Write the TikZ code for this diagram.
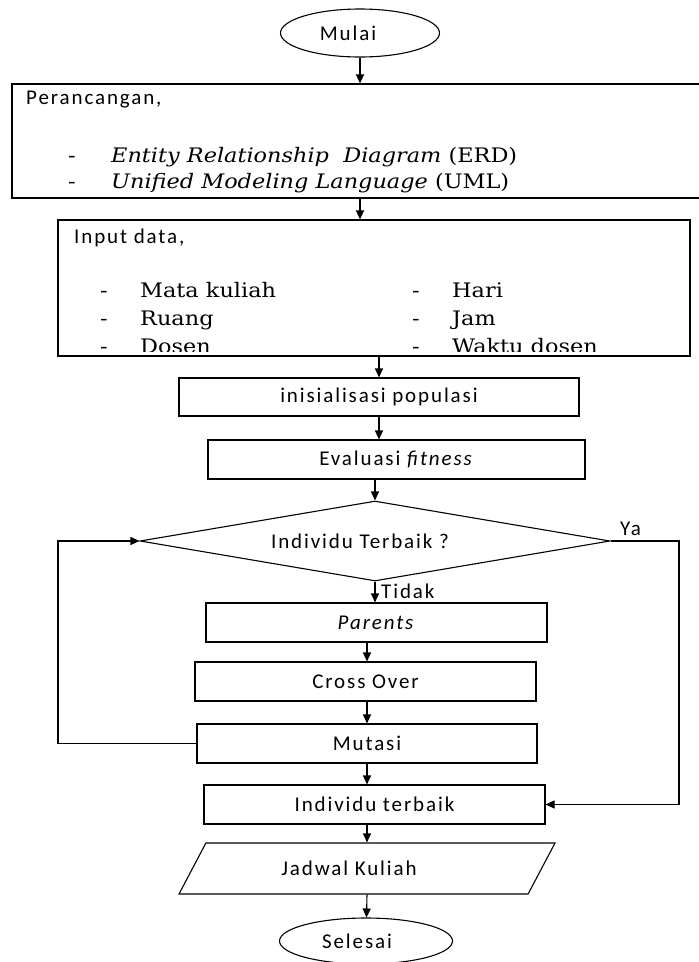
\documentclass[tikz,border=0pt]{standalone}
\usepackage{fontspec}
\setmainfont{Carlito}
\newfontfamily\flowsans[LetterSpace=9]{Carlito}
\newfontfamily\listserif[FakeStretch=1.12]{DejaVu Serif}
\usetikzlibrary{shapes.geometric,arrows.meta}

\tikzset{
  edge/.style={line width=1.1pt, draw=black},
  arr/.style={edge, -{Triangle[length=9pt,width=8pt]}},
  box/.style={draw=black, line width=1.1pt, rectangle, inner sep=0pt,
              font=\flowsans\fontsize{21}{25}\selectfont},
  term/.style={box, ellipse},
  txt/.style={inner sep=0pt, font=\flowsans\fontsize{21}{25}\selectfont},
  itm/.style={inner sep=0pt, anchor=base west, font=\listserif\fontsize{20}{24}\selectfont},
}

\begin{document}
\begin{tikzpicture}[x=1pt,y=-1pt]
\useasboundingbox (0,0) rectangle (699,962);

% terminals and process boxes
\node[term, minimum width=159pt, minimum height=48pt] (mulai) at (360,33) {Mulai\hspace*{24pt}};
\node[box, minimum width=690pt, minimum height=114pt] (peran) at (357,141) {};
\node[box, minimum width=632pt, minimum height=136pt] (input) at (374,288) {};
\node[box, minimum width=400pt, minimum height=38pt] (init) at (379,397) {inisialisasi populasi};
\node[box, minimum width=377pt, minimum height=39pt] (eval) at (396.5,459.5) {Evaluasi \textit{fitness}};
\node[box, diamond, aspect=5.9, minimum width=470pt, minimum height=80pt] (dec) at (375,541) {Individu Terbaik ?\hspace*{30pt}};
\node[box, minimum width=341pt, minimum height=39pt] (parents) at (376.5,622.5) {\textit{Parents}};
\node[box, minimum width=341pt, minimum height=39pt] (cross) at (365.5,681.5) {Cross Over};
\node[box, minimum width=340pt, minimum height=39pt] (mutasi) at (367,743.5) {Mutasi};
\node[box, minimum width=341pt, minimum height=39pt] (indiv) at (374.5,804.5) {Individu terbaik};
\node[box, trapezium, trapezium left angle=28.7, trapezium right angle=151.3,
      trapezium stretches body, minimum width=376pt, minimum height=51pt] (jadwal) at (367,868.5) {Jadwal Kuliah\hspace*{36pt}};
\node[term, minimum width=173pt, minimum height=46pt] (selesai) at (366,941) {Selesai\hspace*{18pt}};

% design step contents
\node[txt, anchor=west] (pertitle) at (26,100) {Perancangan,};
\node[itm] (pd1) at (68,162) {-};
\node[itm] (pi1) at (111,162) {\textit{Entity Relationship\ \ Diagram} (ERD)};
\node[itm] (pd2) at (68,188) {-};
\node[itm] (pi2) at (111,188) {\textit{Unified Modeling Language} (UML)};

% input data contents, cut off at the lower edge of the box
\node[txt, anchor=west] (intitle) at (74,238) {Input data,};
\begin{scope}
  \clip (input.north west) rectangle ([yshift=5pt]input.south east);
  \node[itm] (ld1) at (100,297) {-};
  \node[itm] (li1) at (140,297) {Mata kuliah};
  \node[itm] (ld2) at (100,325) {-};
  \node[itm] (li2) at (140,325) {Ruang};
  \node[itm] (ld3) at (100,353) {-};
  \node[itm] (li3) at (140,353) {Dosen};
  \node[itm] (rd1) at (412,297) {-};
  \node[itm] (ri1) at (452,297) {Hari};
  \node[itm] (rd2) at (412,325) {-};
  \node[itm] (ri2) at (452,325) {Jam};
  \node[itm] (rd3) at (412,353) {-};
  \node[itm] (ri3) at (452,353) {Waktu dosen};
\end{scope}

% loop rails
\coordinate (lrail) at (58,0);
\coordinate (rrail) at (679,0);

% main flow
\draw[arr] (mulai) -- (mulai |- peran.north);
\draw[arr] (peran.south -| mulai) -- (input.north -| mulai);
\draw[arr] (init |- input.south) -- (init);
\draw[arr] (init) -- (init |- eval.north);
\draw[arr] (eval.south -| dec) -- (dec.north);
\draw[arr] (dec.south) -- (dec.south |- parents.north);
\draw[arr] (parents.south -| mutasi) -- (cross.north -| mutasi);
\draw[arr] (cross.south -| mutasi) -- (mutasi);
\draw[arr] (mutasi) -- (mutasi |- indiv.north);
\draw[arr] (indiv.south -| mutasi) -- (jadwal.north -| mutasi);
\draw[arr] (jadwal.south -| mutasi) -- (selesai);

% decision branches
\draw[arr] (mutasi.west) -- (mutasi.west -| lrail) |- (dec.west);
\draw[arr] (dec.east) -- (dec.east -| rrail) |- (indiv.east);
\node[txt, anchor=west] (ya) at (620,529) {Ya};
\node[txt, anchor=west] (tidak) at (381,591) {Tidak};
\end{tikzpicture}
\end{document}
